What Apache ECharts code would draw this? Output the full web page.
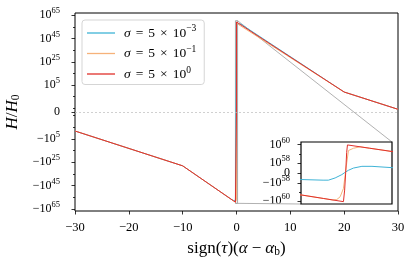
<!DOCTYPE html>
<html><head><meta charset="utf-8">
<script src="https://cdn.jsdelivr.net/npm/echarts@6/dist/echarts.min.js"></script>
<style>html,body{margin:0;padding:0;background:#fff}#c{width:415px;height:265px}</style>
</head><body><div id="c"></div>
<script>
// ---------------- data ----------------
const redX    = [-30, -10, -0.2, -0.1, -0.0134, -0.0082, -0.0037, 0.0007, 0.0042, 0.1, 0.2, 20, 30];
const redY    = [-1.6e-2, -1.3e28, -2.0e59, -5.0e59, -1.1e60, -5.9e58, 0, 1.4e59, 9.5e59, 4.2e59, 1.8e59, 0.11, 1.6e-16];
const orangeX = [-30, -10, -0.2, -0.1, -0.06, -0.0426, -0.028, -0.0134, -0.006, 0.0015, 0.0086, 0.0307, 0.06, 0.1, 0.2, 20, 30];
const orangeY = [-1.6e-2, -1.3e28, -2.0e59, -5.0e59, -7.3e59, -6.5e59, -3.2e59, -3.9e58, -2.2e57, 1.2e58, 2.3e59, 4.1e59, 5.9e59, 4.2e59, 1.8e59, 0.11, 1.6e-16];
const blueX   = [-30, -10, -1, -0.6, -0.197, -0.103, -0.0796, -0.05, -0.0205, -0.006, 0.0086, 0.0307, 0.0677, 0.112, 0.2, 0.7, 1, 20, 30];
const blueY   = [-1.6e-2, -1.3e28, -5.8e56, -6.3e57, -6.5e57, -7.1e57, -7.1e57, -4.9e57, -1.6e57, 6.8e56, 2.7e57, 4.9e57, 6.6e57, 6.6e57, 5.3e57, 5.0e57, 6.6e56, 0.11, 1.6e-16];
const seriesNames  = ['s3', 's1', 's0'];
const legendLabels = ['{i|σ}{op|=}5{op|×}10{sup|−3}', '{i|σ}{op|=}5{op|×}10{sup|−1}', '{i|σ}{op|=}5{op|×}10{sup|0}'];
const mainYTicks  = [1e65, 1e45, 1e25, 1e5, 0, -1e5, -1e25, -1e45, -1e65];
const mainYMinor  = [1e55, 1e35, 1e15, 1e-5, -1e-5, -1e-15, 1e-15, -1e15, -1e35, -1e55];
const insetYTicks = [1e60, 1e58, 0, -1e58, -1e60];
const insetYMinor = [1e59, -1e59];
const insetXRange = [-0.2, 0.2];
const insetYRange = [-2e60, 2e60];

// ---------------- symlog scales ----------------
function symlog(v, L, a) { const m = Math.abs(v); if (m <= L) return v / L * a; return Math.sign(v) * (Math.log10(m / L) + a); }
const mainT  = v => symlog(v, 1e-17, 1 / 0.9);
const insetT = v => symlog(v, 1e58, 1 / 0.9);

const colors = ['#3fb3d6', '#f6b27a', '#e0302b'];
const FF = '"Liberation Serif", "DejaVu Serif", serif';

function powLabel(v) { if (v === 0) return '0'; const e = Math.round(Math.log10(Math.abs(v))); return (v < 0 ? '−' : '') + '10{sup|' + e + '}'; }
function labelMap(ticks, T) { const m = new Map(); ticks.forEach(t => m.set(Math.round(T(t) * 1e4), powLabel(t))); return m; }
const mainMap = labelMap(mainYTicks, mainT), insetMap = labelMap(insetYTicks, insetT);
const supRich = { sup: { fontSize: 8.5, fontFamily: FF, padding: [0, 0, 8, 0], color: '#000' } };

const mainMin = -85, mainMax = 85;
const insetMin = insetT(insetYRange[0]), insetMax = insetT(insetYRange[1]);

const pairs = (xs, ys, T) => xs.map((x, i) => [x, T(ys[i])]);
const datasets = [[blueX, blueY], [orangeX, orangeY], [redX, redY]];

const chart = echarts.init(document.getElementById('c'), null, { renderer: 'canvas' });
const series = [];
series.push({
  name: 'box', type: 'line', xAxisIndex: 0, yAxisIndex: 0, symbol: 'none', silent: true,
  data: [[insetXRange[0], mainT(insetYRange[0])], [insetXRange[1], mainT(insetYRange[0])], [insetXRange[1], mainT(insetYRange[1])], [insetXRange[0], mainT(insetYRange[1])], [insetXRange[0], mainT(insetYRange[0])]],
  lineStyle: { color: '#a8a8a8', width: 1, join: 'bevel' }, z: 1,
  markLine: { silent: true, symbol: 'none', label: { show: false }, lineStyle: { color: '#bdbdbd', width: 0.7, type: [2, 2] }, data: [{ yAxis: 0 }] }
});
datasets.forEach((d, i) => {
  series.push({ name: seriesNames[i], type: 'line', xAxisIndex: 0, yAxisIndex: 0, symbol: 'none', data: pairs(d[0], d[1], mainT), lineStyle: { color: colors[i], width: 1, join: 'round' }, itemStyle: { color: colors[i] }, z: 2 + i });
});
datasets.forEach((d, i) => {
  series.push({ name: seriesNames[i], type: 'line', xAxisIndex: 1, yAxisIndex: 2, symbol: 'none', clip: true, data: pairs(d[0], d[1], insetT), lineStyle: { color: colors[i], width: 1, join: 'round' }, itemStyle: { color: colors[i] }, z: 12 + i });
});

const tickStyle = { lineStyle: { color: '#000', width: 0.8 } };
const hiddenLine = { show: false, onZero: false };
const nameRich = { i: { fontStyle: 'italic', fontFamily: FF, fontSize: 17 }, sub: { fontFamily: FF, fontSize: 11.5, padding: [7, 0, 0, 0] }, op: { fontFamily: FF, fontSize: 17, padding: [0, 4, 0, 4] } };
const option = {
  animation: false,
  grid: [
    { left: 75, top: 13, width: 323, height: 198, outerBoundsMode: 'none', containLabel: false, show: true, borderColor: '#000', borderWidth: 1, backgroundColor: 'transparent', z: 0 },
    { left: 301, top: 142, width: 91, height: 62, outerBoundsMode: 'none', containLabel: false, show: true, borderColor: '#000', borderWidth: 1.2, backgroundColor: '#fff', z: 10 }
  ],
  legend: {
    left: 82, top: 20, orient: 'vertical', data: seriesNames,
    icon: 'rect', itemWidth: 28, itemHeight: 1.3, itemGap: 4,
    padding: [4, 8, 3, 5], backgroundColor: 'rgba(255,255,255,0.85)', borderColor: '#d5d5d5', borderWidth: 1, borderRadius: 3,
    formatter: n => legendLabels[seriesNames.indexOf(n)],
    textStyle: { fontFamily: FF, fontSize: 13.5, color: '#000', lineHeight: 15, padding: [0, 0, 0, 4],
      rich: { i: { fontStyle: 'italic', fontFamily: FF, fontSize: 13.5 }, op: { fontFamily: FF, fontSize: 13.5, padding: [0, 5, 0, 5] },
              sup: { fontSize: 9.5, fontFamily: FF, padding: [0, 0, 8, 0] } } },
    z: 20
  },
  xAxis: [
    { type: 'value', gridIndex: 0, position: 'bottom', min: -30, max: 30, interval: 10,
      axisLine: hiddenLine, splitLine: { show: false },
      axisTick: Object.assign({ show: true, length: 3.5 }, tickStyle),
      axisLabel: { fontFamily: FF, fontSize: 12.5, color: '#000', margin: 10, formatter: v => (v < 0 ? '−' + (-v) : '' + v) },
      name: 'sign({i|τ})({i|α}{op|−}{i|α}{sub|b})', nameLocation: 'middle', nameGap: 28,
      nameTextStyle: { fontFamily: FF, fontSize: 17, color: '#000', rich: nameRich } },
    { type: 'value', gridIndex: 1, position: 'bottom', min: insetXRange[0], max: insetXRange[1],
      axisLine: hiddenLine, axisTick: { show: false }, axisLabel: { show: false }, splitLine: { show: false } }
  ],
  yAxis: [
    { type: 'value', gridIndex: 0, position: 'left', min: mainMin, max: mainMax,
      axisLine: hiddenLine, splitLine: { show: false },
      axisTick: Object.assign({ show: true, length: 3.5, customValues: mainYTicks.map(mainT) }, tickStyle),
      axisLabel: { customValues: mainYTicks.map(mainT), fontFamily: FF, fontSize: 12, color: '#000', margin: 15,
        formatter: v => mainMap.get(Math.round(v * 1e4)) || '', rich: supRich },
      name: '{i|H}/{i|H}{sub|0}', nameLocation: 'middle', nameGap: 40, nameRotate: 90,
      nameTextStyle: { fontFamily: FF, fontSize: 17, color: '#000', rich: nameRich } },
    { type: 'value', gridIndex: 0, position: 'left', min: mainMin, max: mainMax,
      axisLine: hiddenLine, splitLine: { show: false }, axisLabel: { show: false },
      axisTick: Object.assign({ show: true, length: 2, customValues: mainYMinor.map(mainT) }, tickStyle) },
    { type: 'value', gridIndex: 1, position: 'left', min: insetMin, max: insetMax,
      axisLine: hiddenLine, splitLine: { show: false },
      axisTick: Object.assign({ show: true, length: 3.5, customValues: insetYTicks.map(insetT) }, tickStyle),
      axisLabel: { customValues: insetYTicks.map(insetT), fontFamily: FF, fontSize: 12, color: '#000', margin: 11,
        formatter: v => insetMap.get(Math.round(v * 1e4)) || '', rich: supRich } },
    { type: 'value', gridIndex: 1, position: 'left', min: insetMin, max: insetMax,
      axisLine: hiddenLine, splitLine: { show: false }, axisLabel: { show: false },
      axisTick: Object.assign({ show: true, length: 2, customValues: insetYMinor.map(insetT) }, tickStyle) }
  ],
  series: series
};
chart.setOption(option);

// connector lines between the indicator box and the inset
const p1 = chart.convertToPixel({ xAxisIndex: 0, yAxisIndex: 0 }, [insetXRange[1], mainT(insetYRange[1])]);
const q1 = chart.convertToPixel({ xAxisIndex: 1, yAxisIndex: 2 }, [insetXRange[1], insetMax]);
const p2 = chart.convertToPixel({ xAxisIndex: 0, yAxisIndex: 0 }, [insetXRange[0], mainT(insetYRange[0])]);
const q2 = chart.convertToPixel({ xAxisIndex: 1, yAxisIndex: 2 }, [insetXRange[0], insetMin]);
chart.setOption({ graphic: [
  { type: 'line', z: 1, silent: true, shape: { x1: p1[0], y1: p1[1], x2: q1[0], y2: q1[1] }, style: { stroke: '#a8a8a8', lineWidth: 0.9 } },
  { type: 'line', z: 1, silent: true, shape: { x1: p2[0], y1: p2[1], x2: q2[0], y2: q2[1] }, style: { stroke: '#a8a8a8', lineWidth: 0.9 } }
] });
</script></body></html>
